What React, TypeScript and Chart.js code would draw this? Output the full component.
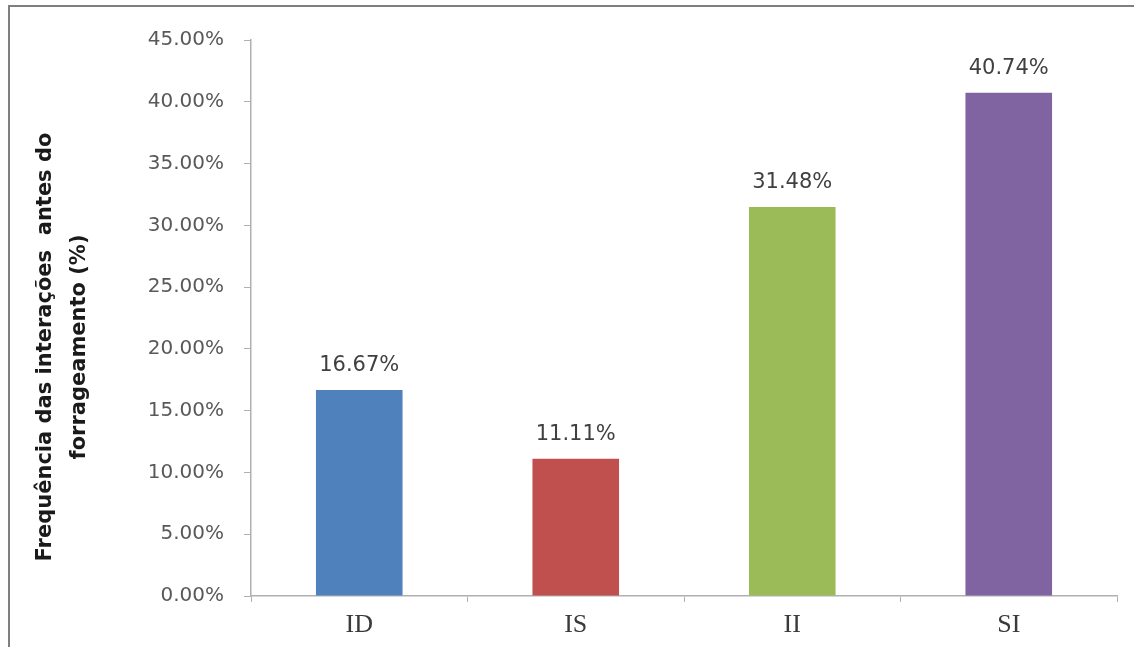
import React, { useEffect, useRef } from "react";
import { Chart, registerables } from "chart.js";

Chart.register(...registerables);

const categories = ["ID", "IS", "II", "SI"];
const values = [16.67, 11.11, 31.48, 40.74];
const barColors = ["#4F81BD", "#C0504D", "#9BBB59", "#8064A2"];
const yTitleLines = ["Frequência das interações  antes do", "forrageamento (%)"];

const SANS = "'DejaVu Sans', 'Noto Sans', sans-serif";

const dataLabelPlugin = {
  id: "dataLabels",
  afterDatasetsDraw(chart: any) {
    const ctx = chart.ctx;
    const meta = chart.getDatasetMeta(0);
    ctx.save();
    ctx.font = `21px ${SANS}`;
    ctx.fillStyle = "#404040";
    ctx.textAlign = "center";
    ctx.textBaseline = "alphabetic";
    meta.data.forEach((bar: any, i: number) => {
      ctx.fillText(values[i].toFixed(2) + "%", bar.x, bar.y - 19);
    });
    ctx.restore();
  },
};

const yTitlePlugin = {
  id: "yTitle",
  afterDraw(chart: any) {
    const ctx = chart.ctx;
    const area = chart.chartArea;
    const cy = (area.top + area.bottom) / 2 + 29;
    ctx.save();
    ctx.font = `bold 21px ${SANS}`;
    ctx.fillStyle = "#1a1a1a";
    ctx.textAlign = "center";
    ctx.textBaseline = "middle";
    const xs = [46, 80];
    yTitleLines.forEach((line, i) => {
      ctx.save();
      ctx.translate(xs[i], cy);
      ctx.rotate(-Math.PI / 2);
      ctx.fillText(line, 0, 0);
      ctx.restore();
    });
    ctx.restore();
  },
};

const framePlugin = {
  id: "frame",
  beforeDraw(chart: any) {
    const ctx = chart.ctx;
    ctx.save();
    ctx.fillStyle = "#ffffff";
    ctx.fillRect(0, 0, chart.width, chart.height);
    ctx.strokeStyle = "#7f7f7f";
    ctx.lineWidth = 2;
    ctx.beginPath();
    ctx.moveTo(9, chart.height);
    ctx.lineTo(9, 6);
    ctx.lineTo(chart.width, 6);
    ctx.stroke();
    ctx.restore();
  },
};

export default function App() {
  const ref = useRef<HTMLCanvasElement | null>(null);
  useEffect(() => {
    document.body.style.margin = "0";
    const chart = new Chart(ref.current!, {
      type: "bar",
      data: {
        labels: categories,
        datasets: [
          {
            data: values,
            backgroundColor: barColors,
            borderWidth: 0,
            barPercentage: 0.4,
            categoryPercentage: 1,
          },
        ],
      },
      options: {
        animation: false,
        responsive: false,
        maintainAspectRatio: false,
        layout: { padding: { top: 40, right: 17, bottom: 0, left: 0 } },
        plugins: { legend: { display: false }, tooltip: { enabled: false } },
        scales: {
          x: {
            grid: {
              offset: true,
              drawOnChartArea: false,
              drawTicks: true,
              tickLength: 6,
              color: "#b0b0b0",
            },
            border: { color: "#b0b0b0", width: 1.5 },
            ticks: {
              color: "#3a3a3a",
              font: { family: "'Liberation Serif', serif", size: 26 },
              padding: 8,
            },
            afterFit(scale: any) {
              scale.height = 51;
            },
          },
          y: {
            min: 0,
            max: 45,
            ticks: {
              stepSize: 5,
              color: "#595959",
              font: { family: SANS, size: 20 },
              padding: 20,
              callback: (v: any) => Number(v).toFixed(2) + "%",
            },
            grid: {
              drawOnChartArea: false,
              drawTicks: true,
              tickLength: 7,
              color: "#b0b0b0",
            },
            border: { color: "#b0b0b0", width: 1.5 },
            afterFit(scale: any) {
              scale.width = 251;
            },
          },
        },
      },
      plugins: [framePlugin, dataLabelPlugin, yTitlePlugin],
    });
    return () => chart.destroy();
  }, []);
  return <canvas ref={ref} width={1134} height={647} style={{ display: "block" }} />;
}
